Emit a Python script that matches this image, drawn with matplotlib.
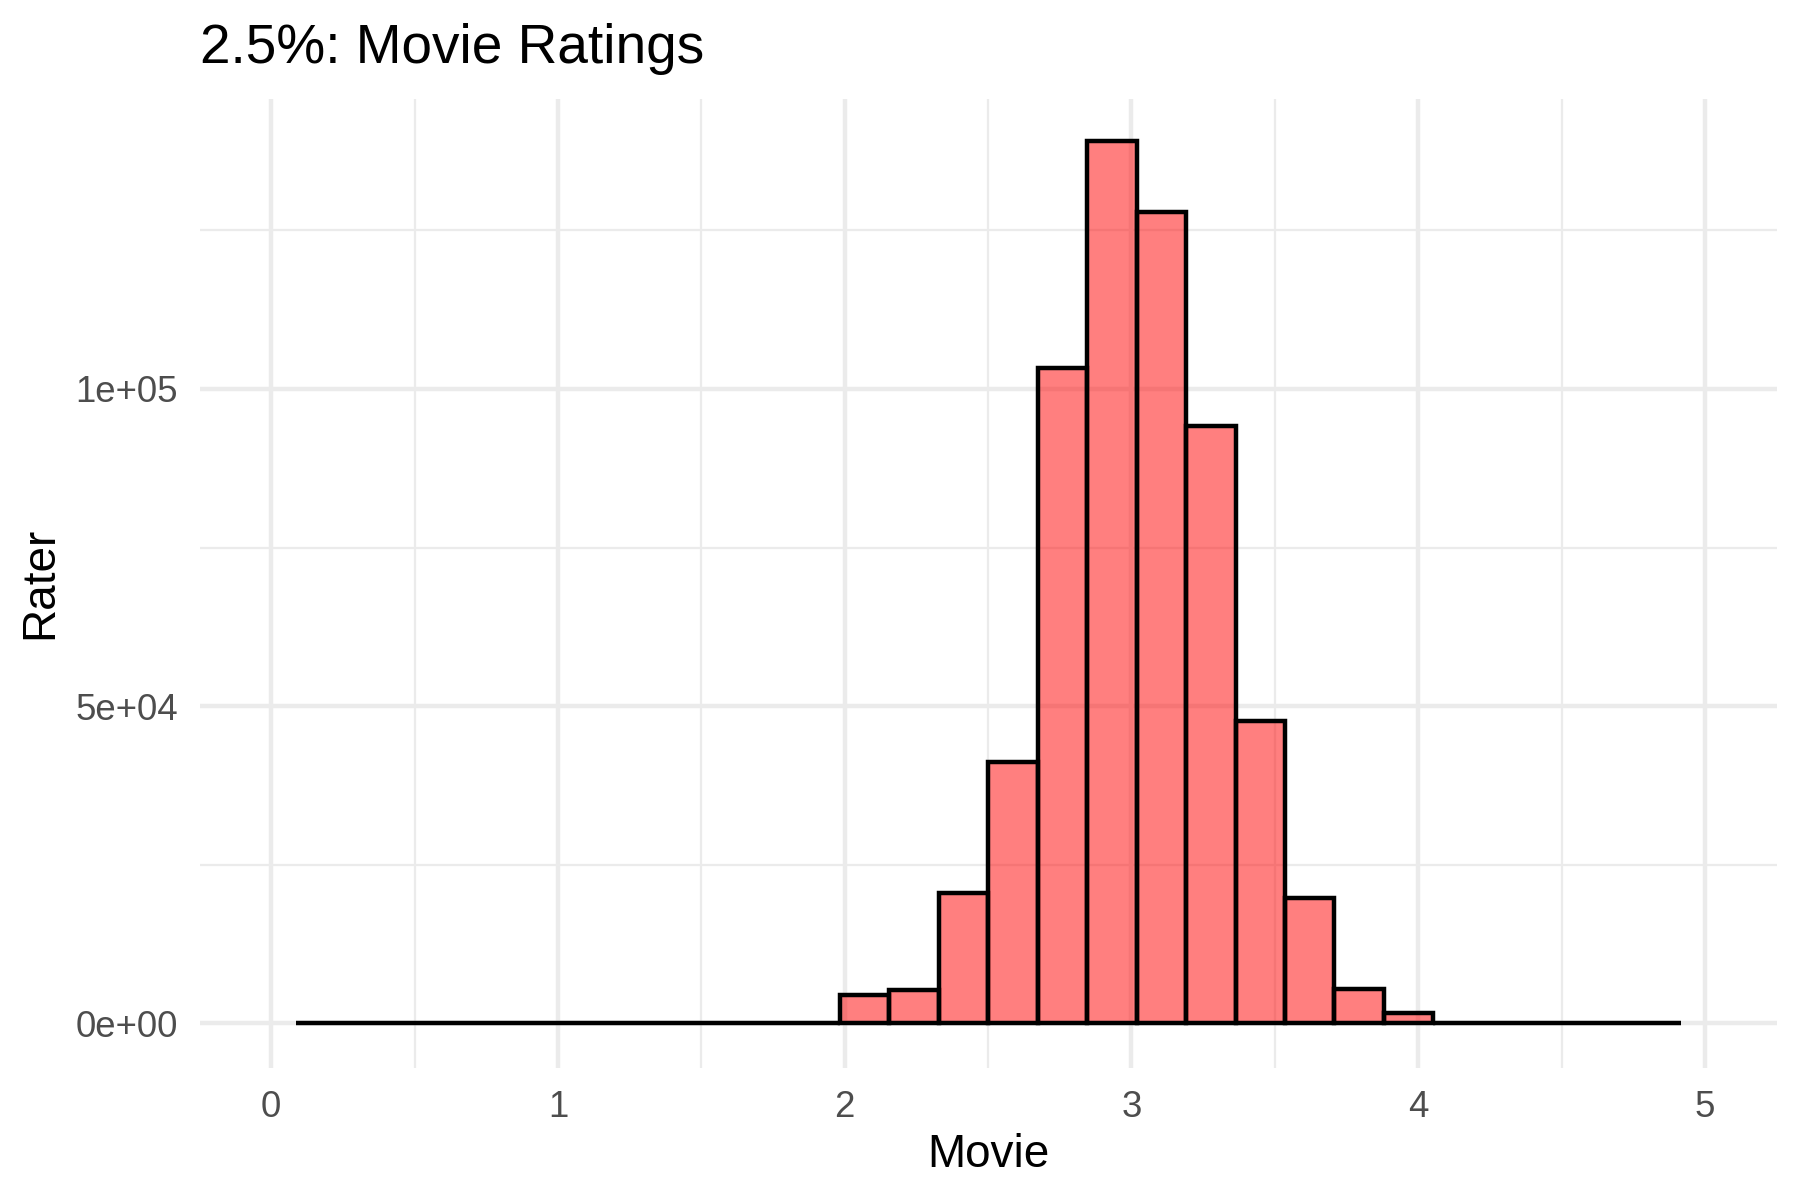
import numpy as np
import matplotlib
matplotlib.use('Agg')
from matplotlib import pyplot as plt
from matplotlib.ticker import FixedLocator

plt.rcParams['font.family'] = ['Liberation Sans', 'DejaVu Sans']

# histogram of movie ratings: 28 bins
bin_start = 0.0872
bin_width = 0.1724
counts = [0, 0, 0, 0, 0, 0, 0, 0, 0, 20, 150,
          4460, 5200, 20620, 41200, 103230, 139150, 127870, 94150,
          47630, 19800, 5450, 1650, 150, 20, 0, 0, 0]

x_ticks = [0, 1, 2, 3, 4, 5]
y_ticks = [0, 50000, 100000]
y_labels = ['0e+00', '5e+04', '1e+05']

edges = bin_start + bin_width * np.arange(len(counts) + 1)

fig = plt.figure(figsize=(6, 4), dpi=300)
ax = fig.add_axes([0.1111, 0.1103, 0.876, 0.8072])

ax.bar(edges[:-1], counts, width=bin_width, align='edge',
       color=(1, 0, 0, 0.5), edgecolor='black', linewidth=1.07, zorder=3)

ax.set_xlim(-0.248, 5.25)
ymax = max(counts)
ax.set_ylim(-0.05 * ymax, 1.047 * ymax)

ax.xaxis.set_major_locator(FixedLocator(x_ticks))
ax.xaxis.set_minor_locator(FixedLocator([0.5, 1.5, 2.5, 3.5, 4.5]))
ax.set_yticks(y_ticks)
ax.set_yticklabels(y_labels)
ax.yaxis.set_minor_locator(FixedLocator([25000, 75000, 125000]))

ax.grid(which='major', color='#EBEBEB', linewidth=1.07, zorder=0)
ax.grid(which='minor', color='#EBEBEB', linewidth=0.53, zorder=0)
ax.set_axisbelow(True)
for s in ax.spines.values():
    s.set_visible(False)

ax.tick_params(axis='both', which='both', length=0, pad=5.3,
               labelsize=8.8, labelcolor='#4D4D4D')

ax.set_title('2.5%: Movie Ratings', loc='left', fontsize=13.2, pad=8.6)
ax.set_xlabel('Movie', fontsize=11, labelpad=2)
ax.set_ylabel('Rater', fontsize=11, labelpad=3)

fig.savefig('out.png', dpi=300)
